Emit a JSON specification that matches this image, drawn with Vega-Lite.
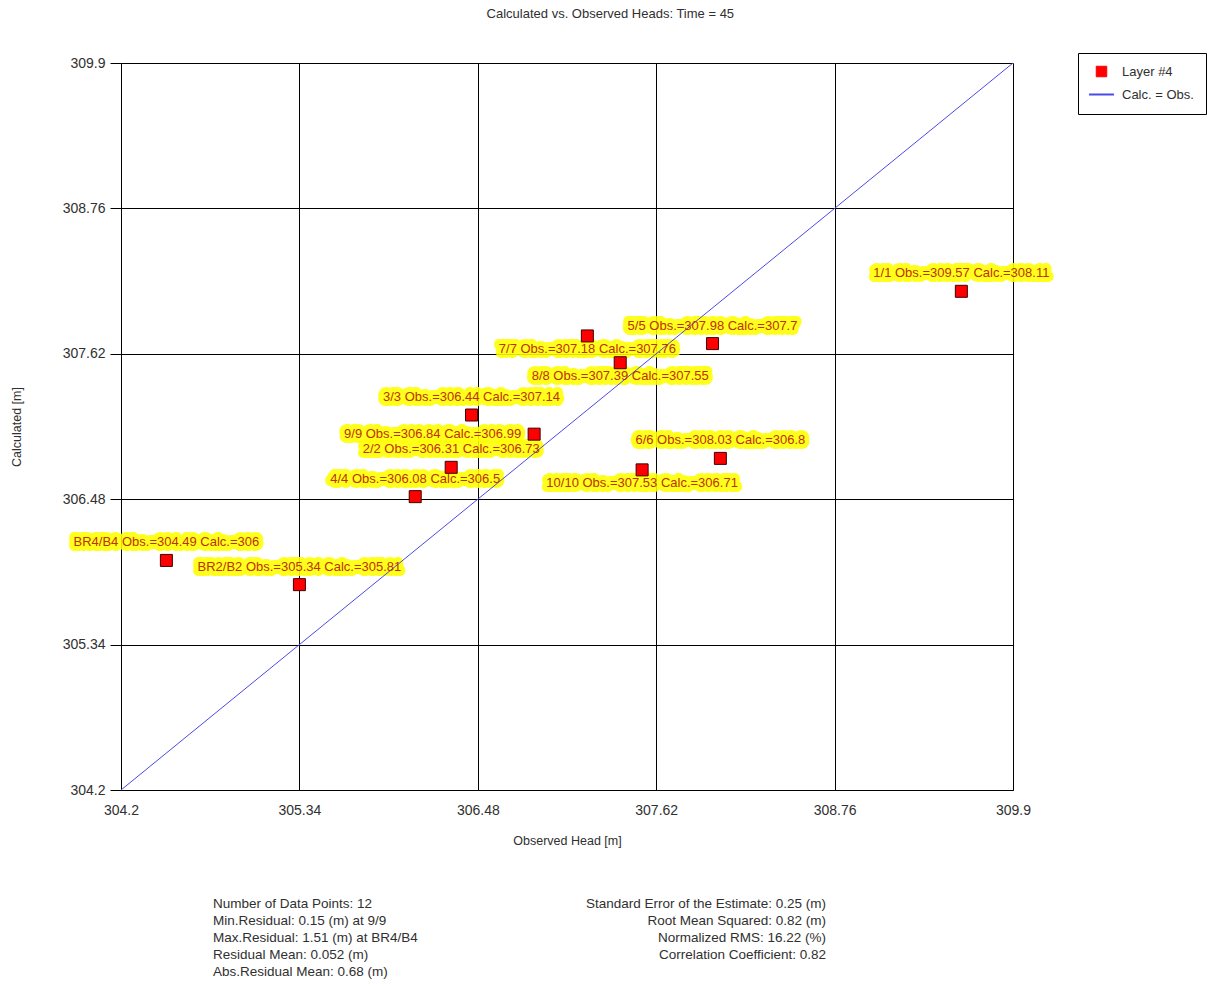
{
  "$schema": "https://vega.github.io/schema/vega-lite/v6.json",
  "padding": {"left": 10, "top": 7, "right": 0, "bottom": 0},
  "background": "white",
  "title": {
    "text": "Calculated vs. Observed Heads: Time = 45",
    "fontSize": 13,
    "fontWeight": "normal",
    "color": "#303030",
    "anchor": "middle",
    "offset": 32,
    "dx": 2
  },
  "config": {
    "font": "Liberation Sans",
    "view": {"stroke": null},
    "axis": {
      "gridColor": "#000000",
      "gridOpacity": 1,
      "gridWidth": 1,
      "domainColor": "#000000",
      "tickColor": "#000000",
      "labelColor": "#303030",
      "labelFontSize": 14,
      "labelFlush": false,
      "titleFontSize": 12.5,
      "titleFontWeight": "normal",
      "titleColor": "#303030"
    }
  },
  "datasets": {
    "points": [
      {"label": "1/1 Obs.=309.57 Calc.=308.11", "obs": 309.57, "calc": 308.11, "series": "Layer #4", "place": "above"},
      {"label": "2/2 Obs.=306.31 Calc.=306.73", "obs": 306.31, "calc": 306.73, "series": "Layer #4", "place": "above"},
      {"label": "3/3 Obs.=306.44 Calc.=307.14", "obs": 306.44, "calc": 307.14, "series": "Layer #4", "place": "above"},
      {"label": "4/4 Obs.=306.08 Calc.=306.5", "obs": 306.08, "calc": 306.5, "series": "Layer #4", "place": "above"},
      {"label": "5/5 Obs.=307.98 Calc.=307.7", "obs": 307.98, "calc": 307.7, "series": "Layer #4", "place": "above"},
      {"label": "6/6 Obs.=308.03 Calc.=306.8", "obs": 308.03, "calc": 306.8, "series": "Layer #4", "place": "above"},
      {"label": "7/7 Obs.=307.18 Calc.=307.76", "obs": 307.18, "calc": 307.76, "series": "Layer #4", "place": "below"},
      {"label": "8/8 Obs.=307.39 Calc.=307.55", "obs": 307.39, "calc": 307.55, "series": "Layer #4", "place": "below"},
      {"label": "9/9 Obs.=306.84 Calc.=306.99", "obs": 306.84, "calc": 306.99, "series": "Layer #4", "place": "left"},
      {"label": "10/10 Obs.=307.53 Calc.=306.71", "obs": 307.53, "calc": 306.71, "series": "Layer #4", "place": "below"},
      {"label": "BR4/B4 Obs.=304.49 Calc.=306", "obs": 304.49, "calc": 306.0, "series": "Layer #4", "place": "above"},
      {"label": "BR2/B2 Obs.=305.34 Calc.=305.81", "obs": 305.34, "calc": 305.81, "series": "Layer #4", "place": "above"}
    ],
    "diag": [
      {"obs": 304.2, "calc": 304.2, "series": "Calc. = Obs."},
      {"obs": 309.9, "calc": 309.9, "series": "Calc. = Obs."}
    ],
    "stats": [
      {"col": "left", "line": 1, "text": "Number of Data Points: 12"},
      {"col": "left", "line": 2, "text": "Min.Residual: 0.15 (m) at 9/9"},
      {"col": "left", "line": 3, "text": "Max.Residual: 1.51 (m) at BR4/B4"},
      {"col": "left", "line": 4, "text": "Residual Mean: 0.052 (m)"},
      {"col": "left", "line": 5, "text": "Abs.Residual Mean: 0.68 (m)"},
      {"col": "right", "line": 1, "text": "Standard Error of the Estimate: 0.25 (m)"},
      {"col": "right", "line": 2, "text": "Root Mean Squared: 0.82 (m)"},
      {"col": "right", "line": 3, "text": "Normalized RMS: 16.22 (%)"},
      {"col": "right", "line": 4, "text": "Correlation Coefficient: 0.82"}
    ]
  },
  "spacing": 48,
  "vconcat": [
    {
      "width": 892,
      "height": 727,
      "encoding": {
        "x": {
          "field": "obs", "type": "quantitative",
          "scale": {"domain": [304.2, 309.9], "nice": false, "zero": false},
          "axis": {
            "title": "Observed Head [m]",
            "values": [304.2, 305.34, 306.48, 307.62, 308.76, 309.9],
            "labelExpr": "'' + datum.value",
            "ticks": false,
            "labelPadding": 13,
            "titlePadding": 17
          }
        },
        "y": {
          "field": "calc", "type": "quantitative",
          "scale": {"domain": [304.2, 309.9], "nice": false, "zero": false},
          "axis": {
            "title": "Calculated [m]",
            "values": [304.2, 305.34, 306.48, 307.62, 308.76, 309.9],
            "labelExpr": "'' + datum.value",
            "tickSize": 11,
            "labelPadding": 5,
            "titlePadding": 39
          }
        }
      },
      "layer": [
        {
          "data": {"name": "points"},
          "transform": [{"filter": "datum.place == 'above'"}],
          "mark": {"type": "text", "fontSize": 13, "dy": -18, "fill": "#ffff00", "stroke": "#ffff00", "strokeWidth": 10, "strokeJoin": "round", "opacity": 0.88},
          "encoding": {"text": {"field": "label"}}
        },
        {
          "data": {"name": "points"},
          "transform": [{"filter": "datum.place == 'below'"}],
          "mark": {"type": "text", "fontSize": 13, "dy": 13, "fill": "#ffff00", "stroke": "#ffff00", "strokeWidth": 10, "strokeJoin": "round", "opacity": 0.88},
          "encoding": {"text": {"field": "label"}}
        },
        {
          "data": {"name": "points"},
          "transform": [{"filter": "datum.place == 'left'"}],
          "mark": {"type": "text", "fontSize": 13, "align": "right", "dx": -13, "fill": "#ffff00", "stroke": "#ffff00", "strokeWidth": 10, "strokeJoin": "round", "opacity": 0.88},
          "encoding": {"text": {"field": "label"}}
        },
        {
          "data": {"name": "diag"},
          "mark": {"type": "line", "strokeWidth": 1},
          "encoding": {
            "color": {
              "field": "series", "type": "nominal",
              "scale": {"domain": ["Layer #4", "Calc. = Obs."], "range": ["#ff0000", "#4a4ae6"]},
              "legend": {
                "title": null,
                "orient": "none",
                "legendX": 957,
                "legendY": -10,
                "strokeColor": "#000000",
                "padding": 12,
                "labelFontSize": 13,
                "labelColor": "#303030",
                "rowPadding": 9,
                "symbolSize": 900,
                "symbolOffset": 5,
                "labelOffset": 14,
                "encode": {
                  "symbols": {
                    "update": {
                      "shape": {"signal": "datum.value == 'Layer #4' ? 'square' : 'stroke'"},
                      "size": {"signal": "datum.value == 'Layer #4' ? 110 : 620"},
                      "fill": {"signal": "datum.value == 'Layer #4' ? '#ff0000' : 'transparent'"},
                      "stroke": {"signal": "datum.value == 'Layer #4' ? '#400000' : '#0000cc'"},
                      "strokeWidth": {"signal": "datum.value == 'Layer #4' ? 1 : 2"},
                      "opacity": {"value": 1}
                    }
                  }
                }
              }
            }
          }
        },
        {
          "data": {"name": "points"},
          "mark": {"type": "point", "shape": "square", "filled": true, "size": 144, "stroke": "#400000", "strokeWidth": 1, "opacity": 1},
          "encoding": {
            "color": {"field": "series", "type": "nominal"}
          }
        },
        {
          "data": {"name": "points"},
          "transform": [{"filter": "datum.place == 'above'"}],
          "mark": {"type": "text", "fontSize": 13, "dy": -18, "color": "#c03000"},
          "encoding": {"text": {"field": "label"}}
        },
        {
          "data": {"name": "points"},
          "transform": [{"filter": "datum.place == 'below'"}],
          "mark": {"type": "text", "fontSize": 13, "dy": 13, "color": "#c03000"},
          "encoding": {"text": {"field": "label"}}
        },
        {
          "data": {"name": "points"},
          "transform": [{"filter": "datum.place == 'left'"}],
          "mark": {"type": "text", "fontSize": 13, "align": "right", "dx": -13, "color": "#c03000"},
          "encoding": {"text": {"field": "label"}}
        }
      ]
    },
    {
      "width": 892,
      "height": 85,
      "data": {"name": "stats"},
      "encoding": {
        "x": {"field": "col", "type": "ordinal", "scale": {"type": "point", "domain": ["left", "right"], "range": [92, 705], "padding": 0}, "axis": null},
        "y": {"field": "line", "type": "ordinal", "scale": {"type": "point", "padding": 0.5}, "axis": null},
        "text": {"field": "text"}
      },
      "layer": [
        {
          "transform": [{"filter": "datum.col == 'left'"}],
          "mark": {"type": "text", "align": "left", "fontSize": 13.5, "color": "#303030"}
        },
        {
          "transform": [{"filter": "datum.col == 'right'"}],
          "mark": {"type": "text", "align": "right", "fontSize": 13.5, "color": "#303030"}
        }
      ]
    }
  ]
}
